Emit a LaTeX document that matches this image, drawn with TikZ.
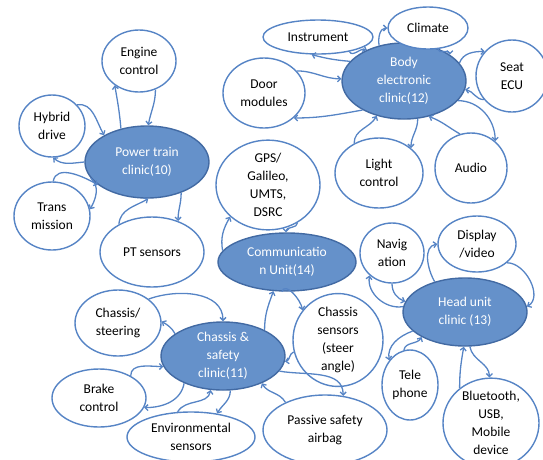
\documentclass[tikz,border=0pt]{standalone}
\usepackage{fontspec}
\setmainfont{Carlito}
\usetikzlibrary{shapes.geometric,arrows.meta}
\definecolor{leafline}{RGB}{86,132,197}
\definecolor{hubfill}{RGB}{101,145,202}
\definecolor{hubline}{RGB}{66,106,163}
\begin{document}
\begin{tikzpicture}[x=1pt,y=1pt,
  leaf/.style={ellipse,draw=leafline,line width=1.4pt,fill=white,inner sep=0pt,align=center,
    font=\fontsize{13.5}{18}\selectfont},
  hub/.style={leaf,draw=hubline,fill=hubfill,text=white},
  dims/.style 2 args={minimum width=#1,minimum height=#2},
  link/.style={draw=leafline,line width=1.3pt,-{Straight Barb[length=3pt,width=6pt]}}]
  \useasboundingbox (0,0) rectangle (543,-459);
  % power train
  \node[hub,dims={124pt}{72pt}] (pt) at (147,-162) {Power train\\clinic(10)};
  \node[leaf,dims={74pt}{62pt}] (eng) at (139,-61) {Engine\\control};
  \node[leaf,dims={66pt}{62pt}] (hyb) at (52,-126) {Hybrid\\drive};
  \node[leaf,dims={76pt}{68pt}] (trans) at (52,-216) {Trans\\mission};
  \node[leaf,dims={104pt}{70pt}] (pts) at (152,-252) {PT sensors};
  % body electronic
  \node[hub,dims={124pt}{76pt}] (body) at (404,-81) {Body\\electronic\\clinic(12)};
  \node[leaf,dims={110pt}{34pt}] (instr) at (318,-37) {Instrument};
  \node[leaf,dims={80pt}{42pt}] (clim) at (428,-28) {Climate};
  \node[leaf,dims={72pt}{72pt}] (seat) at (512,-76) {Seat\\ECU};
  \node[leaf,dims={82pt}{70pt}] (door) at (264,-93) {Door\\modules};
  \node[leaf,dims={88pt}{70pt}] (light) at (379,-173) {Light\\control};
  \node[leaf,dims={72pt}{70pt}] (audio) at (471,-168) {Audio};
  % communication
  \node[leaf,dims={104pt}{74pt}] (gps) at (268,-185) {GPS/\\Galileo,\\UMTS,\\DSRC};
  \node[hub,dims={138pt}{58pt}] (comm) at (287,-262) {Communicatio\\n Unit(14)};
  % chassis & safety
  \node[hub,dims={124pt}{68pt}] (css) at (223,-356) {Chassis \&\\safety\\clinic(11)};
  \node[leaf,dims={86pt}{66pt}] (steer) at (118,-323) {Chassis/\\steering};
  \node[leaf,dims={94pt}{58pt}] (brake) at (99,-398) {Brake\\control};
  \node[leaf,dims={128pt}{50pt}] (env) at (191,-437) {Environmental\\sensors};
  \node[leaf,dims={90pt}{76pt}] (csens) at (338,-340) {Chassis\\sensors\\(steer\\angle)};
  \node[leaf,dims={124pt}{70pt}] (pas) at (325,-430) {Passive safety\\airbag};
  % head unit
  \node[hub,dims={124pt}{68pt}] (head) at (465,-312) {Head unit\\clinic (13)};
  \node[leaf,dims={64pt}{60pt}] (nav) at (392,-253) {Navig\\ation};
  \node[leaf,dims={78pt}{56pt}] (disp) at (477,-244) {Display\\/video};
  \node[leaf,dims={56pt}{70pt}] (tele) at (410,-385) {Tele\\phone};
  \node[leaf,dims={96pt}{80pt}] (blue) at (491,-423) {Bluetooth,\\USB,\\Mobile\\device};
  % links of the power train
  \draw[link] (pt.128) to[out=95,in=-80] (eng.-135);
  \draw[link] (eng.-60) to[out=-90,in=80] (pt.88);
  \draw[link] (hyb.40) to[out=10,in=120] (pt.148);
  \draw[link] (pt.180) to[out=185,in=-40] (hyb.-88);
  \draw[link] (trans.88) to[out=80,in=150] (pt.205);
  \draw[link] (pt.196) to[out=-40,in=60] (trans.10);
  \draw[link] (pts.140) to[out=85,in=-150] (pt.-88);
  \draw[link] (pt.-42) to[out=-90,in=90] (pts.50);
  % links of the body electronic
  \draw[link] (body.160) to[out=175,in=-15] (instr.-110);
  \draw[link] (instr.-25) to[out=-60,in=160] (body.140);
  \draw[link] (body.125) to[out=100,in=180] (clim.180);
  \draw[link] (clim.-65) to[out=-90,in=90] (body.30);
  \draw[link] (body.18) to[out=70,in=180] (seat.138);
  \draw[link] (seat.-140) to[out=180,in=-10] (body.-8);
  \draw[link] (door.34) to[out=0,in=180] (body.178);
  \draw[link] (body.-145) to[out=190,in=0] (door.-40);
  \draw[link] (light.130) to[out=90,in=-120] (body.-128);
  \draw[link] (body.-70) to[out=-90,in=90] (light.38);
  \draw[link] (audio.108) to[out=150,in=-20] (body.-55);
  \draw[link] (body.-20) to[out=0,in=90] (audio.48);
  % links of the communication unit
  \draw[link] (comm.170) to[out=100,in=-120] (gps.-140);
  \draw[link] (gps.-52) to[out=-90,in=90] (comm.92);
  \draw[link] (comm.-100) to[out=70,in=100] (csens.140);
  \draw[link] (css.32) to[out=90,in=-110] (comm.-115);
  % links of the chassis & safety
  \draw[link] (steer.38) to[out=20,in=90] (css.90);
  \draw[link] (css.155) to[out=120,in=-30] (steer.2);
  \draw[link] (brake.35) to[out=90,in=180] (css.190);
  \draw[link] (css.-145) to[out=-100,in=0] (brake.-12);
  \draw[link] (env.118) to[out=60,in=-100] (css.-110);
  \draw[link] (css.-78) to[out=-90,in=60] (env.42);
  \draw[link] (csens.195) to[out=200,in=10] (css.-5);
  \draw[link] (pas.145) to[out=120,in=-60] (css.-35);
  \draw[link] (css.-15) to[out=-10,in=90] (pas.62);
  % links of the head unit
  \draw[link] (head.175) to[out=190,in=-100] (nav.-135);
  \draw[link] (nav.-90) to[out=-90,in=160] (head.170);
  \draw[link] (head.135) to[out=120,in=190] (disp.180);
  \draw[link] (disp.-32) to[out=0,in=30] (head.5);
  \draw[link] (tele.100) to[out=80,in=-120] (head.-150);
  \draw[link] (head.-160) to[out=200,in=100] (tele.130);
  \draw[link] (blue.132) to[out=90,in=-100] (head.-92);
  \draw[link] (head.-82) to[out=-80,in=90] (blue.92);
\end{tikzpicture}
\end{document}
